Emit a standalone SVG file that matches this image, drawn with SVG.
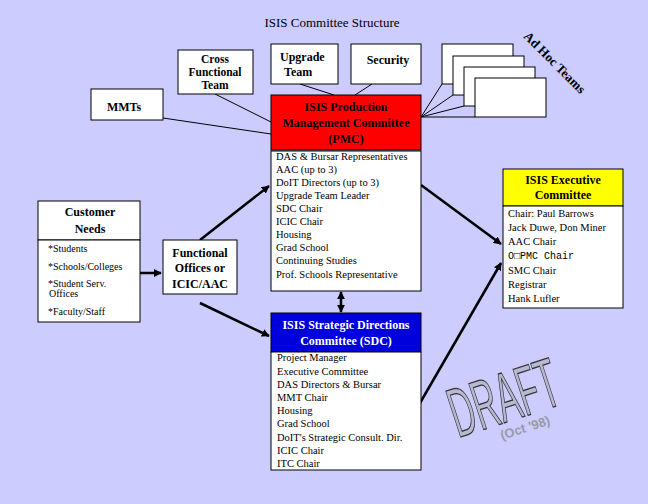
<svg xmlns="http://www.w3.org/2000/svg" width="648" height="504" viewBox="0 0 648 504">
<defs>
<style>
.b{fill:#fff;stroke:#000;stroke-width:1}
.t{font-family:"Liberation Serif","Times New Roman","DejaVu Serif",serif;font-size:11px;fill:#000}
.h{font-family:"Liberation Serif","Times New Roman","DejaVu Serif",serif;font-size:12px;font-weight:bold;text-anchor:middle}
.l{stroke:#000;stroke-width:1;fill:none}
.a{stroke:#000;stroke-width:2.5;fill:none;marker-end:url(#ar)}
</style>
<marker id="ar" viewBox="0 0 10 10" refX="9" refY="5" markerWidth="3.2" markerHeight="3.2" orient="auto"><path d="M0,0L10,5L0,10z" fill="#000"/></marker>
</defs>
<rect width="648" height="504" fill="#ccccff"/>
<text x="332" y="27" class="t" style="font-size:13px" text-anchor="middle">ISIS Committee Structure</text>
<g id="connectors">
<path class="l" d="M215,94L271,122M163,118L271,134M300,84L334,95M372,84L355,95M421,117L442,84M421,117L453,95M421,117L464,106M421,117L475,117"/>
<path class="a" d="M140,273L161,273"/>
<path class="a" d="M200,240L269,186"/>
<path class="a" d="M200,303L269,336"/>
<path class="a" d="M341,302L341,312"/>
<path class="a" d="M341,302L341,292"/>
<path class="a" d="M421,185L501,244"/>
<path class="a" d="M420,403L501,263"/>
</g>
<g id="adhoc">
<rect class="b" x="442" y="44" width="71" height="40"/>
<rect class="b" x="453" y="56" width="71" height="39"/>
<rect class="b" x="464" y="67" width="71" height="39"/>
<rect class="b" x="475" y="78" width="71" height="39"/>
<text class="h" style="font-size:13px;text-anchor:start" transform="translate(523,37) rotate(45)">Ad Hoc Teams</text>
</g>
<g id="mmts"><rect class="b" x="91" y="89" width="72" height="31"/><text class="h" x="124" y="111">MMTs</text></g>
<g id="cross"><rect class="b" x="178" y="50" width="75" height="44"/><text class="h" x="215" y="63" style="font-size:11.5px">Cross</text><text class="h" x="215" y="76" style="font-size:11.5px">Functional</text><text class="h" x="215" y="89" style="font-size:11.5px">Team</text></g>
<g id="upgrade"><rect class="b" x="271" y="44" width="67" height="40"/><text class="h" x="280" y="61" style="text-anchor:start">Upgrade</text><text class="h" x="284" y="76" style="text-anchor:start">Team</text></g>
<g id="security"><rect class="b" x="351" y="44" width="70" height="40"/><text class="h" x="388" y="64">Security</text></g>
<g id="pmc">
<rect x="271" y="95" width="150" height="55" fill="#ff0000" stroke="#000"/>
<text class="h" x="346" y="111">ISIS Production</text><text class="h" x="346" y="127">Management Committee</text><text class="h" x="346" y="143">(PMC)</text>
<rect class="b" x="271" y="151" width="150" height="140"/>
<g class="t" style="font-size:10.5px"><text x="276" y="160">DAS &amp; Bursar Representatives</text><text x="276" y="173">AAC (up to 3)</text><text x="276" y="186">DoIT Directors (up to 3)</text><text x="276" y="199">Upgrade Team Leader</text><text x="276" y="212">SDC Chair</text><text x="276" y="225">ICIC Chair</text><text x="276" y="238">Housing</text><text x="276" y="251">Grad School</text><text x="276" y="264">Continuing Studies</text><text x="276" y="278">Prof. Schools Representative</text></g>
</g>
<g id="sdc">
<rect x="271" y="313" width="150" height="39" fill="#0000dd" stroke="#000"/>
<text class="h" x="346" y="329" fill="#fff">ISIS Strategic Directions</text><text class="h" x="346" y="345" fill="#fff">Committee (SDC)</text>
<rect class="b" x="271" y="352" width="150" height="118"/>
<g class="t" style="font-size:10.5px"><text x="277" y="361">Project Manager</text><text x="277" y="375">Executive Committee</text><text x="277" y="388">DAS Directors &amp; Bursar</text><text x="277" y="401">MMT Chair</text><text x="277" y="414">Housing</text><text x="277" y="427">Grad School</text><text x="277" y="441">DoIT's Strategic Consult. Dir.</text><text x="277" y="454">ICIC Chair</text><text x="277" y="467">ITC Chair</text></g>
</g>
<g id="exec">
<rect x="503" y="169" width="120" height="37" fill="#ffff00" stroke="#000"/>
<text class="h" x="563" y="184">ISIS Executive</text><text class="h" x="563" y="199">Committee</text>
<rect class="b" x="503" y="206" width="120" height="102"/>
<g class="t" style="font-size:10.5px"><text x="508" y="217">Chair: Paul Barrows</text><text x="508" y="231">Jack Duwe, Don Miner</text><text x="508" y="245">AAC Chair</text><text x="508" y="259" style="font-family:'Liberation Mono',monospace;font-size:10px">O□PMC Chair</text><text x="508" y="274">SMC Chair</text><text x="508" y="288">Registrar</text><text x="508" y="302">Hank Lufler</text></g>
</g>
<g id="customer">
<rect class="b" x="38" y="201" width="102" height="39"/>
<text class="h" x="90" y="216">Customer</text><text class="h" x="90" y="233">Needs</text>
<rect class="b" x="38" y="240" width="102" height="82"/>
<g class="t" style="font-size:10px"><text x="48" y="252">*Students</text><text x="48" y="270">*Schools/Colleges</text><text x="48" y="287">*Student Serv.</text><text x="49" y="297">Offices</text><text x="48" y="315">*Faculty/Staff</text></g>
</g>
<g id="functional"><rect class="b" x="163" y="240" width="74" height="54"/><text class="h" x="200" y="257">Functional</text><text class="h" x="200" y="272">Offices or</text><text class="h" x="200" y="288">ICIC/AAC</text></g>
<g id="draft">
<text transform="translate(458,438) rotate(-18) scale(0.62,1.3)" style="font-family:'Liberation Sans',sans-serif;font-size:54px;fill:#b8b8d0;stroke:#333;stroke-width:1">DRAFT</text>
<text transform="translate(502,440) rotate(-18)" style="font-family:'Liberation Sans',sans-serif;font-size:13px;font-weight:bold;fill:#9999aa">(Oct '98)</text>
</g>
</svg>
